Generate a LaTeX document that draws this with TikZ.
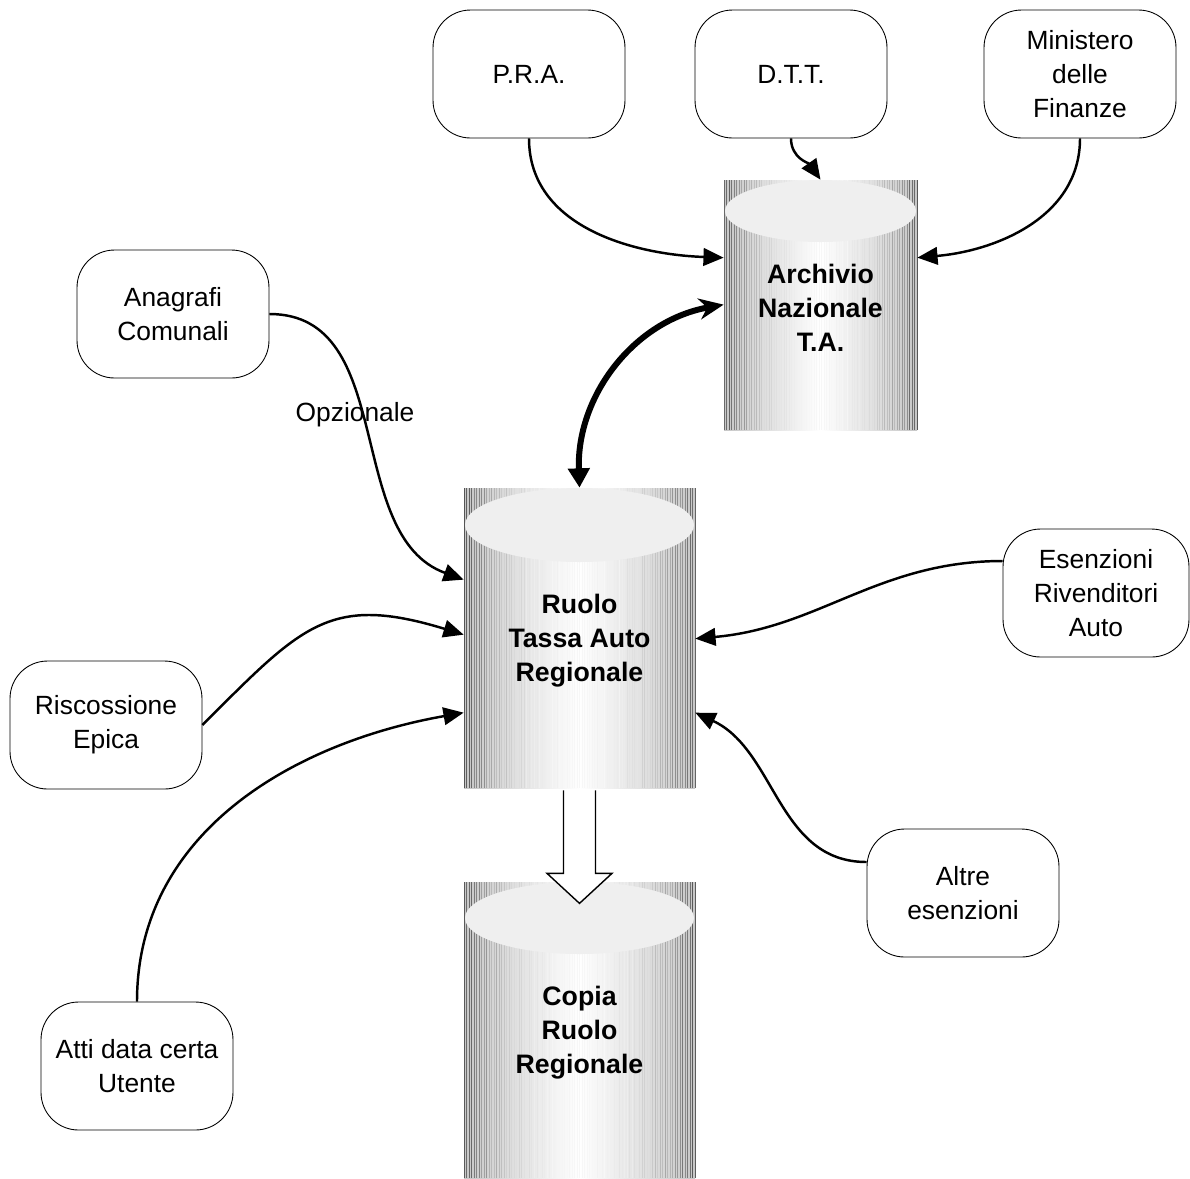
\documentclass[tikz,border=0pt]{standalone}
\usepackage{fontspec}
\setmainfont{Liberation Sans}
\usetikzlibrary{arrows.meta,calc,fit}
\definecolor{cyltop}{HTML}{EFEFEF}
\tikzset{
ent/.style={draw=black, line width=0.5pt, rounded corners=0.75cm, minimum width=3.84cm, minimum height=2.56cm, align=center, fill=white, font=\fontsize{15}{19.3}\selectfont},
flow/.style={line width=1.4pt, -{Triangle[length=11.5pt,width=10pt]}},
cyltxt/.style={inner sep=0pt, align=center, font=\bfseries\fontsize{15.2}{19.3}\selectfont},
lbl/.style={font=\fontsize{15}{19.3}\selectfont}
}
\newcommand{\dbcyl}[7]{%
\shade[left color=black!22, right color=black!22, middle color=white] (#2,#3) rectangle (#4,#5);
\pgfmathsetmacro{\nl}{int((#4-#2)/2.5)}
\foreach \i in {0,...,\nl}{
\pgfmathsetmacro{\tl}{\i/\nl}
\pgfmathsetmacro{\xl}{#2+\tl*(#4-#2)}
\pgfmathsetmacro{\dl}{abs(2*\tl-1)}
\pgfmathsetmacro{\gl}{int(min(80,3+55*\dl*\dl*\dl+14*rnd*\dl))}
\draw[line width=0.35pt, black!\gl] (\xl,#3) -- (\xl,#5);
}
\fill[cyltop] ({(#2+#4)/2},{#3+#6}) ellipse [x radius={(#4-#2)/2-1}, y radius=#6];
\node[inner sep=0pt, fit={(#2,#3) (#4,#5)}] (#1) {};
\node[cyltxt] (#1-txt) at ($(#1.center)+(0,3)$) {#7};
}
\begin{document}
\begin{tikzpicture}[x=0.02cm,y=-0.02cm]
\pgfmathsetseed{3}
\useasboundingbox (0,0) rectangle (1190,1178);
\dbcyl{arch}{724}{180}{917}{430}{31}{Archivio\\Nazionale\\T.A.}
\dbcyl{ruolo}{464}{488}{695}{788}{37}{Ruolo\\Tassa Auto\\Regionale}
\dbcyl{copia}{464}{882}{695}{1178}{36}{Copia\\Ruolo\\Regionale}
\node[ent] (pra) at (529,74) {P.R.A.};
\node[ent] (dtt) at (791,74) {D.T.T.};
\node[ent] (mef) at (1080,74) {Ministero\\delle\\Finanze};
\node[ent] (anag) at (173,314) {Anagrafi\\Comunali};
\node[ent] (risc) at (106,725) {Riscossione\\Epica};
\node[ent] (atti) at (137,1066) {Atti data certa\\Utente};
\node[ent, minimum width=3.72cm] (esen) at (1096,593) {Esenzioni\\Rivenditori\\Auto};
\node[ent] (altre) at (963,893) {Altre\\esenzioni};
\draw[flow] (pra.south) to[out=-90,in=178] ($(arch.north west)+(0,78)$);
\draw[flow] (dtt.south) to[out=-90,in=125] (arch.north);
\draw[flow] (mef.south) to[out=-90,in=5] ($(arch.north east)+(0,78)$);
\draw[line width=3.4pt, {Triangle[length=11pt,width=12pt]}-{Stealth[length=14pt,width=12pt]}] (ruolo.north) to[out=92,in=190] ($(arch.north west)+(0,125)$);
\draw[flow] (anag.east) to[out=0,in=160] ($(ruolo.north west)+(0,92)$);
\node[lbl] (opz) at (355,415) {Opzionale};
\draw[flow] (risc.east) to[out=45,in=163,looseness=1.3] ($(ruolo.north west)+(0,147)$);
\draw[flow] (atti.north) to[out=90,in=190] ($(ruolo.north west)+(0,225)$);
\draw[flow] ($(esen.west)+(0,-32)$) to[out=180,in=5] ($(ruolo.north east)+(0,151)$);
\draw[flow] ($(altre.west)+(0,-31)$) to[out=180,in=-25] ($(ruolo.north east)+(0,225)$);
\draw[line width=0.8pt, fill=white] ($(ruolo.south)+(-16,2)$) -- ++(0,83) -- ++(-16.5,0) -- ($(ruolo.south)+(0,115)$) -- ($(ruolo.south)+(32.5,85)$) -- ++(-16.5,0) -- ($(ruolo.south)+(16,2)$);
\end{tikzpicture}
\end{document}
